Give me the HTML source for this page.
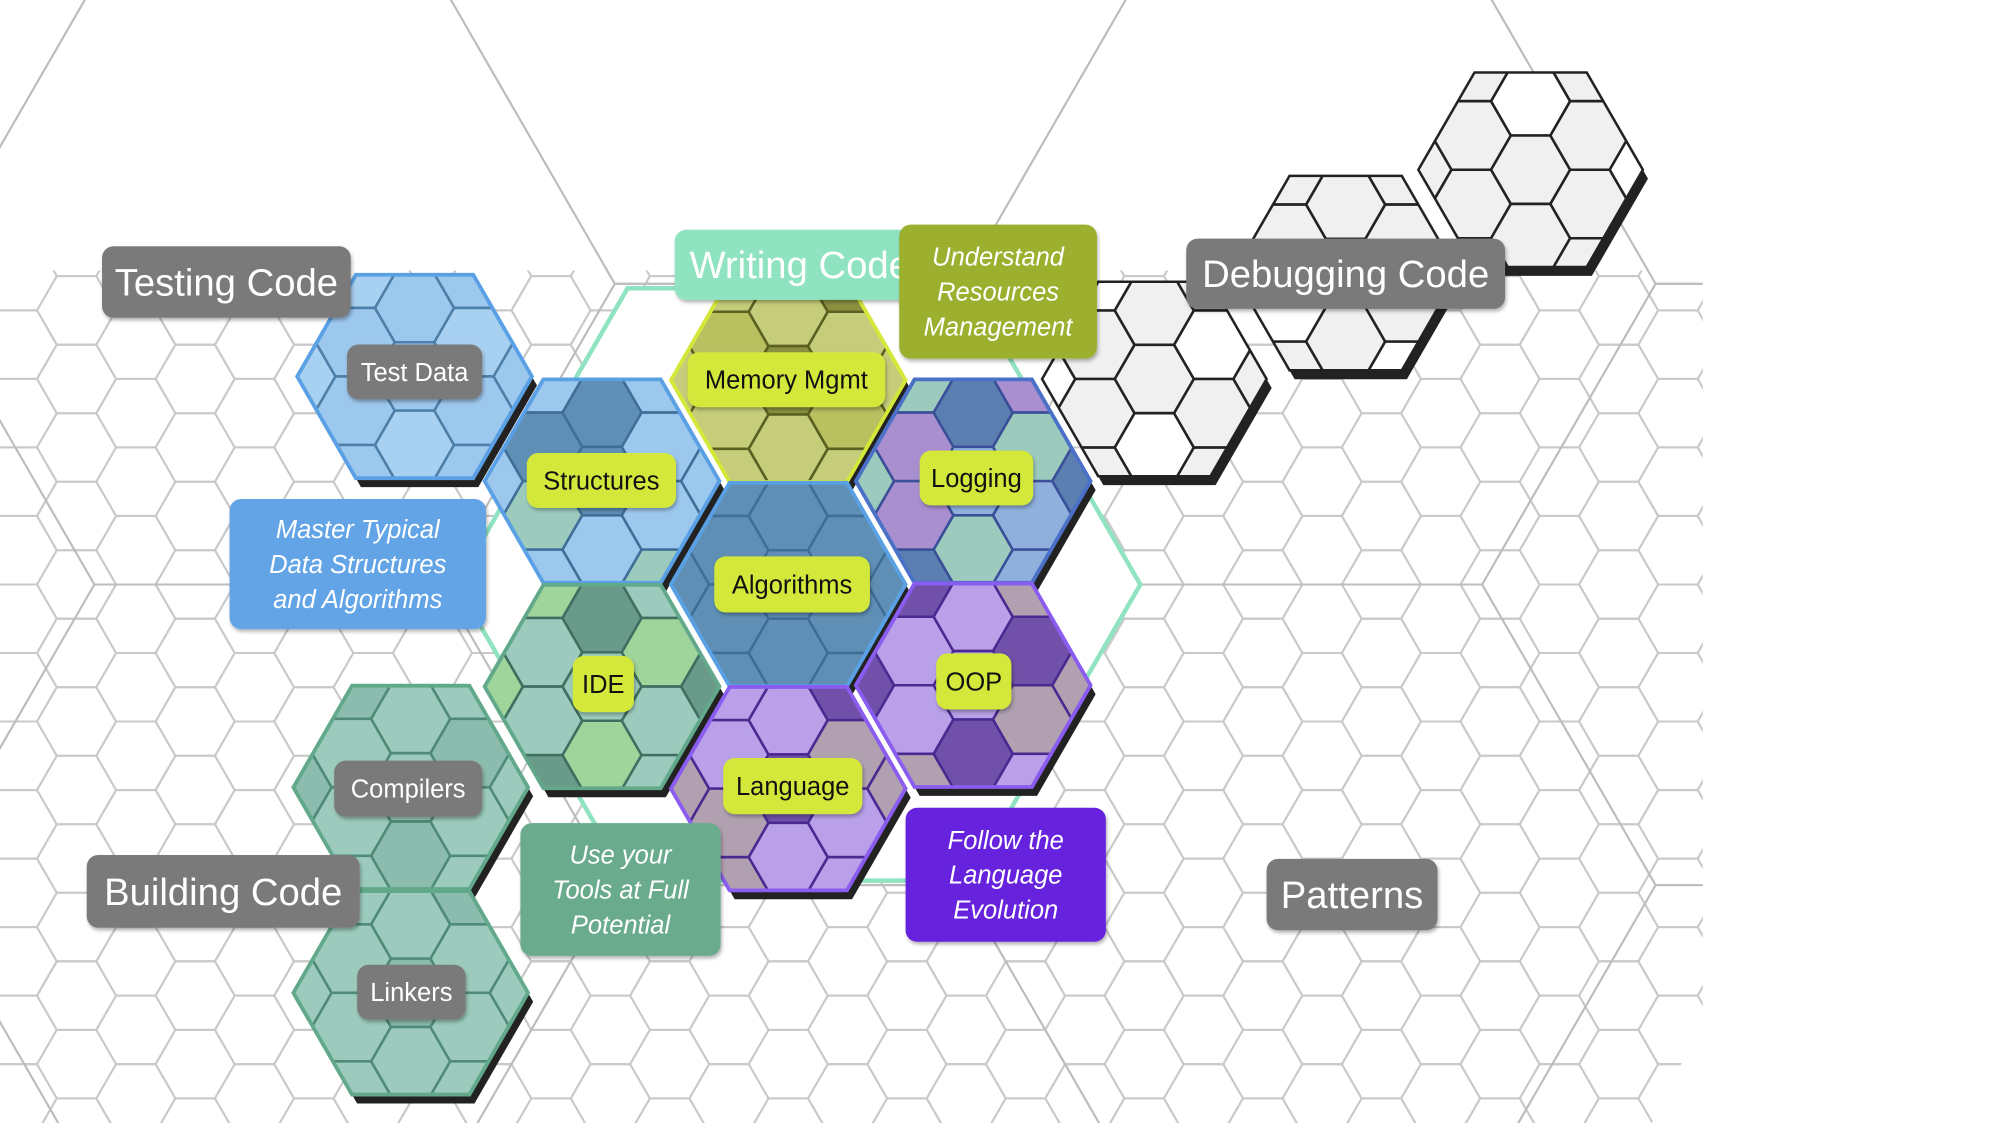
<!DOCTYPE html>
<html><head><meta charset="utf-8"><style>
html,body{margin:0;padding:0;background:#fff;overflow:hidden;width:2000px;height:1123px}
svg{display:block;position:absolute;left:0;top:0}
text{font-family:"Liberation Sans Narrow","Liberation Sans",sans-serif}
</style></head><body>
<svg id="s" width="2000" height="1123" viewBox="0 0 1568 880" preserveAspectRatio="none" xmlns="http://www.w3.org/2000/svg">
<defs>
<filter id="sh" x="-10%" y="-10%" width="130%" height="140%"><feDropShadow dx="1" dy="2" stdDeviation="1.5" flood-color="#000" flood-opacity="0.3"/></filter>
</defs>
<rect width="1568" height="880" fill="#fff"/>
<g id="bg"></g>
<g id="cl"></g>
<g id="lb"></g>
</svg>
<script>
const NS="http://www.w3.org/2000/svg";
function el(p,t,a){const e=document.createElementNS(NS,t);for(const k in a)e.setAttribute(k,a[k]);p.appendChild(e);return e;}
function hp(cx,cy,r){let s=[];for(let k=0;k<6;k++){const a=Math.PI/3*k;s.push((cx+r*Math.cos(a)).toFixed(1)+","+(cy+r*Math.sin(a)).toFixed(1));}return s.join(" ");}
const bg=document.getElementById("bg"),cl=document.getElementById("cl"),lb=document.getElementById("lb");
const S3=Math.sqrt(3);
const r=31;
for(let i=-20;i<=20;i++)for(let j=-12;j<=12;j++){
 const x=618+i*1.5*r,y=458+j*S3*r+(Math.abs(i)%2?S3*r/2:0);
 if(x<-40||x>1600||y<-40||y>920)continue;
 el(bg,"polygon",{points:hp(x,y,r),fill:"none",stroke:"#c9c9c9","stroke-width":1.6});
}
el(bg,"rect",{x:0,y:0,width:1568,height:212,fill:"#fff"});
el(bg,"polygon",{points:"860,212 1568,212 1568,40 860,40",fill:"#fff"});
const R2=272;
for(let i=-4;i<=4;i++)for(let j=-3;j<=3;j++){
 const x=618+i*1.5*R2,y=458+j*S3*R2+(Math.abs(i)%2?S3*R2/2:0);
 el(bg,"polygon",{points:hp(x,y,R2),fill:"none",stroke:"#bdbdbd","stroke-width":1.6});
}
el(bg,"polygon",{points:"1335,0 1568,0 1568,880 1335,880 1295,880 1335,800",fill:"#fff"});
el(bg,"rect",{x:1336,y:0,width:240,height:880,fill:"#fff"});
el(bg,"polygon",{points:hp(626,458,268),fill:"#fff",stroke:"#8fe3c0","stroke-width":3.5});

function cluster(cx,cy,R,pal,stroke,sw,cellStroke,seed){
 const id="c"+Math.round(cx)+"_"+Math.round(cy);
 const cp=el(cl,"clipPath",{id});el(cp,"polygon",{points:hp(cx,cy,R)});
 el(cl,"polygon",{points:hp(cx+4,cy+7,R),fill:"#222"});
 const g=el(cl,"g",{"clip-path":"url(#"+id+")"});
 el(g,"polygon",{points:hp(cx,cy,R),fill:pal[0]});
 let n=seed;
 for(let i=-4;i<=4;i++)for(let j=-3;j<=3;j++){
  const x=cx+i*1.5*r,y=cy+j*S3*r+(Math.abs(i)%2?S3*r/2:0);
  n=(n*7+3)%11;const c=pal[n%pal.length];
  el(g,"polygon",{points:hp(x,y,r),fill:c,stroke:cellStroke,"stroke-width":2});
  el(g,"line",{x1:x-r/2,y1:y+S3*r/2+2,x2:x+r/2,y2:y+S3*r/2+2,stroke:cellStroke,"stroke-width":5,opacity:0.6});
 }
 el(cl,"polygon",{points:hp(cx,cy,R),fill:"none",stroke:stroke,"stroke-width":sw});
}
const dp=["#f0f0f0","#f0f0f0","#fff"];
cluster(905,297,88,dp,"#222",2,"#222",1);
cluster(1055,214,88,dp,"#222",2,"#222",2);
cluster(1200,133,88,dp,"#222",2,"#222",3);
const blue=["#9dc8ee","#9dc8ee","#5f8fb5","#9ccbbd"];
cluster(325,295,92,["#9dc8ee","#9dc8ee","#a8d0f0"],"#5aa0e4",3,"#4d7fa8",1);
cluster(618,298,92,["#c5cd7a","#8a9040","#c5cd7a","#b8c060"],"#d4e83a",3,"#5a6020",2);
cluster(472,377,92,blue,"#5aa0e4",3,"#3f6f98",3);
cluster(763,377,92,["#8fb0dd","#5a7fb0","#a98fd0","#9ccbbd"],"#4a70c8",3,"#3a4f98",4);
cluster(618,458,92,["#9ccbbd","#5f8fb5","#9dc8ee","#9ccbbd"],"#5aa0e4",3,"#3f6f98",5);
cluster(472,538,92,["#9ccbbd","#6a9a8a","#9ccbbd","#9fd49a"],"#62a88a",3,"#3f6f60",6);
cluster(763,537,92,["#b9a0e8","#7050a8","#b0a0b0","#b9a0e8"],"#8a5cf0",3,"#4a2a90",7);
cluster(618,618,92,["#b9a0e8","#7050a8","#b0a0b0","#b9a0e8"],"#8a5cf0",3,"#4a2a90",8);
cluster(322,617,92,["#9ccbbd","#9ccbbd","#8cbcae"],"#62a88a",3,"#4f8a78",9);
cluster(322,778,92,["#9ccbbd","#9ccbbd","#8cbcae"],"#62a88a",3,"#4f8a78",10);

function label(x1,y1,x2,y2,fill,lines,col,fs,it){
 el(lb,"rect",{x:x1,y:y1,width:x2-x1,height:y2-y1,rx:9,fill:fill,filter:"url(#sh)"});
 const cx=(x1+x2)/2,cy=(y1+y2)/2,lh=fs*1.37;
 lines.forEach((t,k)=>{const y=cy+(k-(lines.length-1)/2)*lh+fs*0.35;
  const e=el(lb,"text",{x:cx,y:y,"text-anchor":"middle","font-size":fs,fill:col});
  if(it)e.setAttribute("font-style","italic");e.textContent=t;});
}
const Y="#d4e83a",G="#7a7a7a";
label(80,193,275,249,G,["Testing Code"],"#fff",30);
label(272,270,378,313,G,["Test Data"],"#fff",20);
label(413,355,530,398,Y,["Structures"],"#111",20);
label(529,180,725,235,"#8fe3c0",["Writing Code"],"#fff",30);
label(705,176,860,281,"#9daf2f",["Understand","Resources","Management"],"#fff",20,1);
label(539,276,694,319,Y,["Memory Mgmt"],"#111",20);
label(930,187,1180,242,G,["Debugging Code"],"#fff",30);
label(721,353,810,396,Y,["Logging"],"#111",20);
label(180,391,381,493,"#62a4e6",["Master Typical","Data Structures","and Algorithms"],"#fff",20,1);
label(560,436,682,480,Y,["Algorithms"],"#111",20);
label(449,514,497,558,Y,["IDE"],"#111",20);
label(734,512,793,556,Y,["OOP"],"#111",20);
label(262,596,378,640,G,["Compilers"],"#fff",20);
label(567,594,676,638,Y,["Language"],"#111",20);
label(68,670,282,727,G,["Building Code"],"#fff",30);
label(408,645,565,749,"#6aab8e",["Use your","Tools at Full","Potential"],"#fff",20,1);
label(710,633,867,738,"#6620dd",["Follow the","Language","Evolution"],"#fff",20,1);
label(993,673,1127,729,G,["Patterns"],"#fff",30);
label(280,756,365,799,G,["Linkers"],"#fff",20);
</script>
</body></html>
